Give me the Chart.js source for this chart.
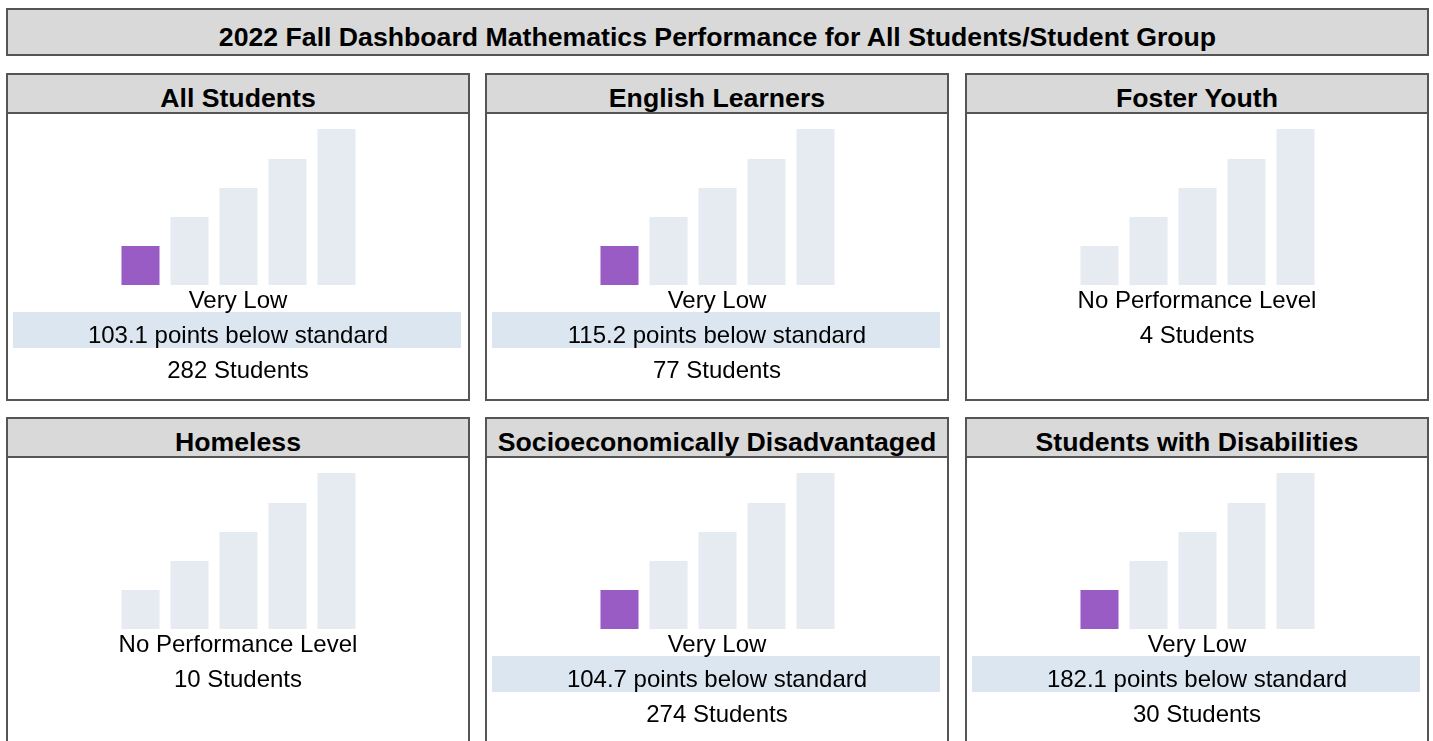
<!DOCTYPE html>
<html>
<head>
<meta charset="utf-8">
<script src="https://cdn.jsdelivr.net/npm/chart.js@4"></script>
<style>
  html, body { margin: 0; padding: 0; background: #fff; }
  body { width: 1433px; height: 741px; overflow: hidden; position: relative; font-family: "Liberation Sans", Arial, sans-serif; color: #000; }
  .title { position: absolute; left: 6px; top: 8px; width: 1423px; height: 48px; box-sizing: border-box; border: 2px solid #555; background: #d9d9d9; }
  .title span { position: absolute; left: 0; right: 0; top: 9px; line-height: 36px; text-align: center; font-weight: bold; font-size: 26.67px; }
  .panel { position: absolute; width: 464px; height: 328px; box-sizing: border-box; border: 2px solid #555; background: #fff; }
  .head { position: absolute; left: 0; right: 0; top: 0; height: 39px; box-sizing: border-box; border-bottom: 2px solid #555; background: #d9d9d9; }
  .head span { position: absolute; left: 0; right: 0; top: 5px; line-height: 36px; text-align: center; font-weight: bold; font-size: 26.67px; white-space: nowrap; }
  .panel canvas { position: absolute; top: 54px; left: 107.5px; }
  .band { position: absolute; left: 5px; width: 448px; top: 237px; height: 36px; background: #dce6f1; }
  .line { position: absolute; left: 0; right: 0; height: 36px; line-height: 36px; text-align: center; font-size: 24px; white-space: nowrap; }
</style>
</head>
<body>
<div class="title"><span id="titleText"></span></div>
<div id="panels"></div>
<script>
const chartTitle = "2022 Fall Dashboard Mathematics Performance for All Students/Student Group";

// one entry per student group, in grid order
const groups = ["All Students", "English Learners", "Foster Youth", "Homeless", "Socioeconomically Disadvantaged", "Students with Disabilities"];
const levelIndex = [0, 0, -1, -1, 0, 0];            // -1 = no performance level
const distanceBelow = [103.1, 115.2, null, null, 104.7, 182.1];
const studentCounts = [282, 77, 4, 10, 274, 30];

// the five performance levels and the height of each step bar
const levelNames = ["Very Low", "Low", "Medium", "High", "Very High"];
const barHeights = [39, 68, 97, 126, 156];

const colLeft = [6, 485, 965];
const rowTop = [73, 417];
const purple = "#995cc4";
const grey = "#e6eaf1";

document.getElementById("titleText").textContent = chartTitle;

function makePanel(i) {
  const panel = document.createElement("div");
  panel.className = "panel";
  panel.style.left = colLeft[i % 3] + "px";
  panel.style.top = rowTop[Math.floor(i / 3)] + "px";

  const head = document.createElement("div");
  head.className = "head";
  head.innerHTML = "<span></span>";
  head.firstChild.textContent = groups[i];
  panel.appendChild(head);

  const canvas = document.createElement("canvas");
  canvas.width = 245;
  canvas.height = 156;
  canvas.style.width = "245px";
  canvas.style.height = "156px";
  panel.appendChild(canvas);

  const lines = [];
  if (levelIndex[i] >= 0) {
    const band = document.createElement("div");
    band.className = "band";
    panel.appendChild(band);
    lines.push(levelNames[levelIndex[i]]);
    lines.push(distanceBelow[i].toFixed(1) + " points below standard");
  } else {
    lines.push("No Performance Level");
  }
  lines.push(studentCounts[i] + " Students");

  lines.forEach((txt, k) => {
    const d = document.createElement("div");
    d.className = "line";
    d.style.top = (207 + k * 35) + "px";
    d.textContent = txt;
    panel.appendChild(d);
  });

  document.getElementById("panels").appendChild(panel);

  new Chart(canvas, {
    type: "bar",
    data: {
      labels: levelNames,
      datasets: [{
        data: barHeights,
        backgroundColor: barHeights.map((v, k) => k === levelIndex[i] ? purple : grey),
        borderWidth: 0,
        barPercentage: 0.776,
        categoryPercentage: 1
      }]
    },
    options: {
      responsive: false,
      animation: false,
      devicePixelRatio: 1,
      layout: { padding: 0 },
      plugins: { legend: { display: false }, tooltip: { enabled: false } },
      scales: {
        x: { display: false },
        y: { display: false, min: 0, max: 156 }
      }
    }
  });
}

groups.forEach((g, i) => makePanel(i));
</script>
</body>
</html>
